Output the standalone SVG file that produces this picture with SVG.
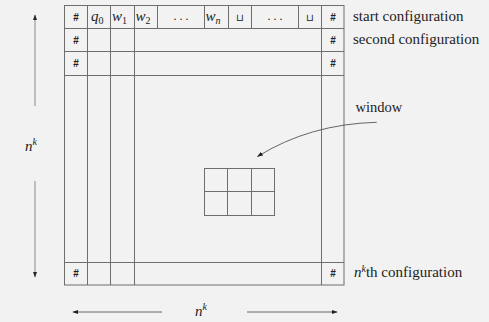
<svg xmlns="http://www.w3.org/2000/svg" width="489" height="322" viewBox="0 0 489 322">
<defs>
<style>
.g{fill:none;stroke:#6e6e6e;stroke-width:1}
.h{font-family:Liberation Sans,sans-serif;font-weight:bold;font-size:10px;fill:#222;text-anchor:middle}
.m{font-family:Liberation Serif,serif;font-style:italic;font-size:15px;fill:#222}
.s{font-size:10px}
.r{font-style:normal}
.t{font-family:Liberation Serif,serif;font-size:15px;fill:#222}
.d{font-family:Liberation Serif,serif;font-size:12px;fill:#222;text-anchor:middle}
.a{stroke:#9a9a9a;stroke-width:1.2;fill:none}
.b{stroke:#555;stroke-width:0.9;fill:none}
</style>
<marker id="ah" viewBox="0 0 10 10" refX="9" refY="5" markerWidth="6" markerHeight="6" orient="auto-start-reverse" markerUnits="userSpaceOnUse">
<path d="M0,1.5 L10,5 L0,8.5 Z" fill="#222"/>
</marker>
</defs>
<rect width="489" height="322" fill="#f2f2f2"/>
<g id="grid">
<rect class="g" x="64.5" y="5.5" width="279.5" height="279.5"/>
<line class="g" x1="64.5" y1="28.5" x2="344" y2="28.5"/>
<line class="g" x1="64.5" y1="51.5" x2="344" y2="51.5"/>
<line class="g" x1="64.5" y1="75.5" x2="344" y2="75.5"/>
<line class="g" x1="64.5" y1="262.5" x2="344" y2="262.5"/>
<line class="g" x1="87.5" y1="5.5" x2="87.5" y2="285"/>
<line class="g" x1="110.5" y1="5.5" x2="110.5" y2="285"/>
<line class="g" x1="134.5" y1="5.5" x2="134.5" y2="285"/>
<line class="g" x1="321.5" y1="5.5" x2="321.5" y2="285"/>
<line class="g" x1="157.5" y1="5.5" x2="157.5" y2="28.5"/>
<line class="g" x1="204.5" y1="5.5" x2="204.5" y2="28.5"/>
<line class="g" x1="228.5" y1="5.5" x2="228.5" y2="28.5"/>
<line class="g" x1="251.5" y1="5.5" x2="251.5" y2="28.5"/>
<line class="g" x1="298.5" y1="5.5" x2="298.5" y2="28.5"/>
</g>
<g id="row1">
<text class="h" x="76" y="21">#</text>
<text class="m" x="91" y="21">q<tspan class="s r" dy="3">0</tspan></text>
<text class="m" x="112" y="21">w<tspan class="s r" dy="3">1</tspan></text>
<text class="m" x="135.5" y="21">w<tspan class="s r" dy="3">2</tspan></text>
<text class="d" x="181" y="20">. . .</text>
<text class="m" x="205.5" y="21">w<tspan class="s" dy="3">n</tspan></text>
<text class="d" x="240" y="21" style="font-size:10px">⊔</text>
<text class="d" x="275" y="20">. . .</text>
<text class="d" x="310" y="21" style="font-size:10px">⊔</text>
<text class="h" x="333" y="21">#</text>
</g>
<g id="row2">
<text class="h" x="76" y="44">#</text>
<text class="h" x="333" y="44">#</text>
</g>
<g id="row3">
<text class="h" x="76" y="67">#</text>
<text class="h" x="333" y="67">#</text>
</g>
<g id="rowlast">
<text class="h" x="76" y="277">#</text>
<text class="h" x="333" y="277">#</text>
</g>
<g id="window">
<rect class="g" x="204.5" y="168.5" width="70" height="47"/>
<line class="g" x1="204.5" y1="191.5" x2="274.5" y2="191.5"/>
<line class="g" x1="227.5" y1="168.5" x2="227.5" y2="215.5"/>
<line class="g" x1="251.5" y1="168.5" x2="251.5" y2="215.5"/>
</g>
<g id="labels">
<text class="t" x="353" y="21">start configuration</text>
<text class="t" x="353" y="44">second configuration</text>
<text class="t" x="355.5" y="112" style="font-size:14.5px">window</text>
<text class="t" x="354" y="277"><tspan font-style="italic">n</tspan><tspan font-style="italic" font-size="10px" dy="-5">k</tspan><tspan dy="5">th configuration</tspan></text>
<text class="m" x="25" y="151">n<tspan class="s" dy="-6">k</tspan></text>
<text class="m" x="195" y="316">n<tspan class="s" dy="-6">k</tspan></text>
</g>
<g id="connectors">
<line class="a" x1="35" y1="106" x2="35" y2="15" marker-end="url(#ah)"/>
<line class="a" x1="35" y1="181" x2="35" y2="277" marker-end="url(#ah)"/>
<line class="b" x1="162" y1="312" x2="73" y2="312" marker-end="url(#ah)"/>
<line class="b" x1="247" y1="312" x2="337" y2="312" marker-end="url(#ah)"/>
<path class="b" d="M376.7,122.3 Q310,124 257.5,156.5" marker-end="url(#ah)"/>
</g>
</svg>
